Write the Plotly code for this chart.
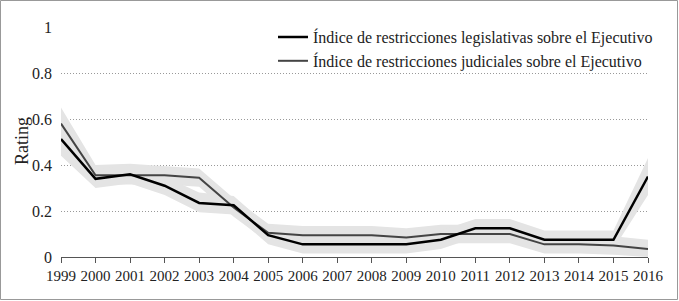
import plotly.graph_objects as go

years = list(range(1999, 2017))
legis = [0.513, 0.34, 0.36, 0.31, 0.235, 0.225, 0.095, 0.055, 0.055, 0.055, 0.055, 0.075, 0.125, 0.125, 0.075, 0.075, 0.075, 0.35]
legis_lo = [0.44, 0.30, 0.32, 0.27, 0.195, 0.185, 0.055, 0.015, 0.015, 0.015, 0.015, 0.035, 0.085, 0.085, 0.035, 0.035, 0.035, 0.27]
legis_hi = [0.58, 0.38, 0.40, 0.35, 0.28, 0.265, 0.135, 0.095, 0.095, 0.095, 0.095, 0.115, 0.165, 0.165, 0.115, 0.115, 0.115, 0.43]
judic = [0.58, 0.355, 0.355, 0.355, 0.345, 0.215, 0.105, 0.095, 0.095, 0.095, 0.085, 0.1, 0.1, 0.1, 0.055, 0.055, 0.05, 0.035]
judic_lo = [0.51, 0.315, 0.315, 0.315, 0.305, 0.175, 0.065, 0.055, 0.055, 0.055, 0.045, 0.06, 0.06, 0.06, 0.015, 0.015, 0.01, 0.0]
judic_hi = [0.65, 0.40, 0.405, 0.395, 0.385, 0.255, 0.145, 0.135, 0.135, 0.135, 0.125, 0.14, 0.14, 0.14, 0.095, 0.095, 0.09, 0.075]
names = ["Índice de restricciones legislativas sobre el Ejecutivo",
         "Índice de restricciones judiciales sobre el Ejecutivo"]
yticks = [0, 0.2, 0.4, 0.6, 0.8, 1]
ytick_text = ["0", "0.2", "0.4", "0.6", "0.8", "1"]

band = "rgb(228,228,228)"
font = "Liberation Serif"

fig = go.Figure()
for lo, hi in [(judic_lo, judic_hi), (legis_lo, legis_hi)]:
    fig.add_trace(go.Scatter(x=years + years[::-1], y=hi + lo[::-1], fill="toself",
                             fillcolor=band, line=dict(width=0), mode="lines",
                             showlegend=False, hoverinfo="skip"))
fig.add_trace(go.Scatter(x=years, y=judic, mode="lines", name=names[1],
                         line=dict(color="#444444", width=2)))
fig.add_trace(go.Scatter(x=years, y=legis, mode="lines", name=names[0],
                         line=dict(color="#000000", width=2.5)))

W, H = 679, 301
L, R, T, B = 61, 31, 27, 44
pw, ph = W - L - R, H - T - B

fig.update_layout(
    width=W, height=H,
    margin=dict(l=L, r=R, t=T, b=B, autoexpand=False),
    paper_bgcolor="white", plot_bgcolor="white",
    font=dict(family=font, size=15, color="#222"),
    legend=dict(x=1.017, y=1.03, xanchor="right", yanchor="top", traceorder="reversed",
                bgcolor="rgba(0,0,0,0)", font=dict(size=16), itemwidth=30,
                tracegroupgap=0),
    xaxis=dict(range=[1999, 2016], tickmode="array", tickvals=years,
               ticktext=[str(y) for y in years], showgrid=False, zeroline=False,
               showline=True, linecolor="#555", linewidth=1, automargin=False,
               ticks="outside", ticklen=5, tickcolor="#555"),
    yaxis=dict(range=[0, 1], tickmode="array", tickvals=yticks, ticktext=ytick_text,
               showgrid=True, gridcolor="#999", griddash="1px,2px", gridwidth=1,
               zeroline=False, showline=False, ticks="", automargin=False,
               ticklabelstandoff=8, tickfont=dict(size=16)),
    annotations=[dict(text="Rating", textangle=-90, xref="paper", yref="paper",
                      x=(22 - L) / pw, y=(257 - 141) / ph, xanchor="center", yanchor="middle",
                      showarrow=False, font=dict(size=18))],
    shapes=[dict(type="rect", xref="paper", yref="paper",
                 x0=-(L - 0.5) / pw, x1=(pw + R - 1.5) / pw,
                 y0=-(B - 1.5) / ph, y1=(ph + T - 0.5) / ph,
                 line=dict(color="#999", width=1), fillcolor="rgba(0,0,0,0)", layer="below")],
)
fig.write_html("out.html", config={"displayModeBar": False},
               post_script="document.body.style.margin='0';document.body.style.overflow='hidden';")
